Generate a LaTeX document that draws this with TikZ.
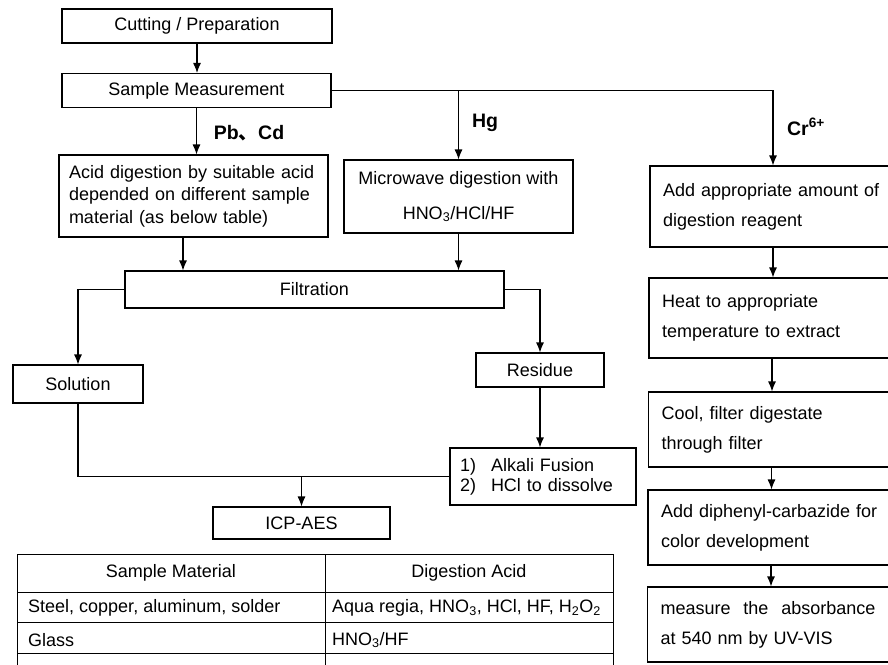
\documentclass[tikz,border=0pt]{standalone}
\usepackage{fontspec}
\setmainfont{Liberation Sans}
\newfontfamily\cjk{Noto Sans CJK SC}
\usetikzlibrary{arrows.meta}

\tikzset{
    box/.style={draw, line width=1.1pt, inner sep=0pt, align=center, font=\fontsize{18}{21}\selectfont},
    lbox/.style={box, align=left, inner xsep=10pt, text width=#1},
    rbox/.style={lbox=220pt, inner xsep=13pt, minimum height=#1, font=\fontsize{18}{30}\selectfont},
    elem/.style={inner sep=0pt, font=\fontsize{19.5}{22}\selectfont\bfseries},
    cell/.style={inner sep=0pt, font=\fontsize{18}{21}\selectfont},
    flow/.style={->, line width=1.1pt},
    rule/.style={line width=1pt}
}

\begin{document}
\begin{tikzpicture}[x=1pt, y=-1pt, >={Latex[length=10pt,width=8pt]}]
        \useasboundingbox (0,0) rectangle (888,664);
        \clip (0,0) rectangle (888,664);

        % Preparation
        \node[box, minimum width=270pt, minimum height=34pt] (cut) at (197,26) {Cutting / Preparation};
        \node[box, minimum width=269pt, minimum height=34pt] (meas) at (196.5,90.5) {Sample Measurement};

        % Pb, Cd and Hg
        \node[lbox=249pt, minimum height=82pt, font=\fontsize{18}{22.5}\selectfont] (acid) at (193.5,196) {Acid digestion by suitable acid\\depended on different sample\\material (as below table)};
        \node[box, minimum width=229pt, minimum height=73pt, font=\fontsize{18}{35}\selectfont] (micro) at (458.5,196.5) {Microwave digestion with\\HNO\textsubscript{3}/HCl/HF};
        \node[box, minimum width=379pt, minimum height=37pt] (filt) at (314.5,289.5) {Filtration};
        \node[box, minimum width=130pt, minimum height=38pt] (sol) at (78,384) {Solution};
        \node[box, minimum width=128pt, minimum height=34pt] (res) at (540,370) {Residue};
        \node[lbox=166pt, minimum height=57pt, font=\fontsize{18}{20}\selectfont] (alk) at (543,476.5) {\makebox[31pt][l]{1)}Alkali Fusion\\\makebox[31pt][l]{2)}HCl to dissolve};
        \node[box, minimum width=177pt, minimum height=32pt] (icp) at (301.5,523) {ICP-AES};

        % Cr6+
        \node[rbox=81pt] (add) at (773,206.5) {Add appropriate amount of\\digestion reagent};
        \node[rbox=80pt] (heat) at (772,318) {Heat to appropriate\\temperature to extract};
        \node[rbox=75pt] (cool) at (771.5,429.5) {Cool, filter digestate\\through filter};
        \node[rbox=75pt] (diph) at (771,527.5) {Add diphenyl-carbazide for\\color development};
        \node[rbox=75pt] (absb) at (770.5,624.5) {\makebox[215pt]{measure\hfill the\hfill absorbance}\\at 540 nm by UV-VIS};

        % Branch labels
        \node[elem] (lpb) at (249,133) {Pb{\cjk 、}Cd};
        \node[elem] (lhg) at (485,123) {Hg};
        \node[elem] (lcr) at (806,127) {Cr\textsuperscript{6+}};

        % Arrows
        \draw[flow] (cut.south) -- (cut.south |- meas.north);
        \draw[flow] (meas.south) -- (meas.south |- acid.north);
        \draw[flow] (meas.east) -| (add.north);
        \coordinate (hgfork) at (micro.north |- meas.east);
        \draw[flow] (hgfork) -- (micro.north);
        \draw[flow] ([xshift=-10.5pt]acid.south) -- ([xshift=-10.5pt]acid.south |- filt.north);
        \draw[flow] (micro.south) -- (micro.south |- filt.north);
        \draw[flow] (filt.west) -| (sol.north);
        \draw[flow] (filt.east) -| (res.north);
        \draw[flow] (res.south) -- (res.south |- alk.north);
        \draw[line width=1.1pt] (sol.south) |- (alk.west);
        \coordinate (icpfork) at (icp.north |- alk.west);
        \draw[flow] (icpfork) -- (icp.north);
        \foreach \a/\b in {add/heat, heat/cool, cool/diph, diph/absb} {
            \draw[flow] (\a.south) -- (\a.south |- \b.north);
        }

        % Table
        \draw[rule] (17,554) rectangle (613,700);
        \draw[rule] (325,554) -- (325,700);
        \foreach \y in {592, 622, 653} {
            \draw[rule] (17,\y) -- (613,\y);
        }
        \node[cell] (hmat) at (171,573) {Sample Material};
        \node[cell] (hacid) at (469,573) {Digestion Acid};
        \node[cell, anchor=west] (mat1) at (28,608) {Steel, copper, aluminum, solder};
        \node[cell, anchor=west] (acid1) at (332,608) {Aqua regia, HNO\textsubscript{3}, HCl, HF, H\textsubscript{2}O\textsubscript{2}};
        \node[cell, anchor=west] (mat2) at (28,640) {Glass};
        \node[cell, anchor=west] (acid2) at (332,640) {HNO\textsubscript{3}/HF};
    \end{tikzpicture}
\end{document}
